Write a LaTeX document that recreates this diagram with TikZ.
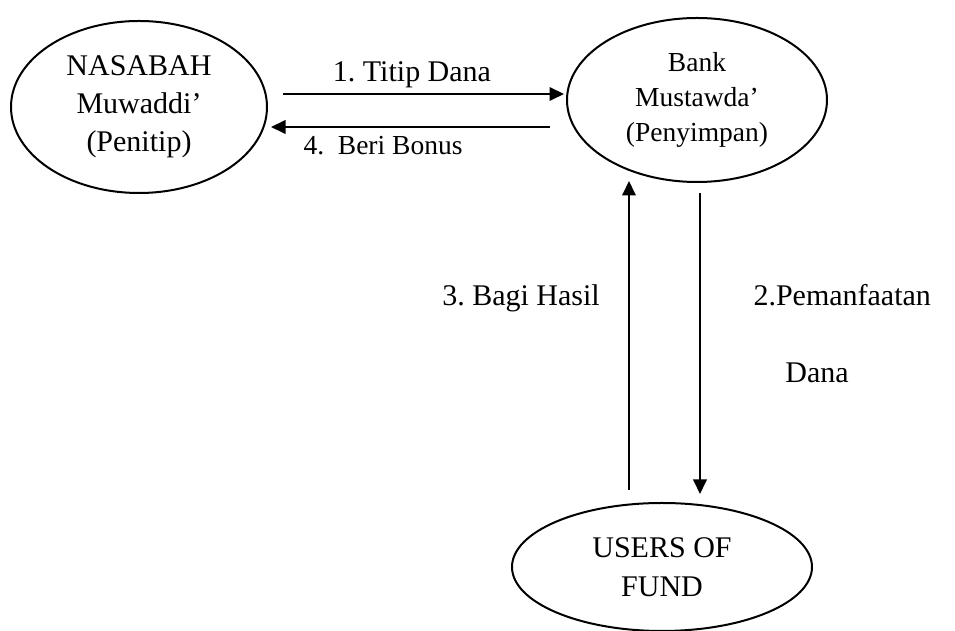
\documentclass[tikz,border=0pt]{standalone}
\usepackage{fontspec}
\setmainfont{Liberation Serif}
\usetikzlibrary{shapes.geometric,arrows.meta}
\begin{document}
\frenchspacing
\begin{tikzpicture}[x=0.4pt,y=-0.4pt,
  ent/.style={draw,ellipse,line width=0.8pt,inner sep=0pt,outer sep=0pt,align=center},
  flow/.style={line width=0.75pt,-{Triangle[length=5.8pt,width=5.4pt]}},
  lbl/.style={anchor=base,inner sep=0pt,font=\fontsize{12}{14}\selectfont\frenchspacing}]
\useasboundingbox (0,0) rectangle (955,631);
\node[ent,minimum width=102.4pt,minimum height=68.8pt,font=\fontsize{12}{15.2}\selectfont] (nas) at (139,107) {NASABAH\\Muwaddi'\\(Penitip)};
\node[ent,minimum width=104pt,minimum height=65.6pt,font=\fontsize{11}{14}\selectfont] (bank) at (697,100) {Bank\\Mustawda'\\(Penyimpan)};
\node[ent,minimum width=120pt,minimum height=51.2pt,font=\fontsize{12}{15.6}\selectfont] (users) at (662,567) {USERS OF\\FUND};
\coordinate (p1s) at (283,94);
\coordinate (p1e) at (564,94);
\coordinate (p4s) at (550,127);
\coordinate (p4e) at (271,127);
\coordinate (p3s) at (629,490);
\coordinate (p3e) at (629,181);
\coordinate (p2s) at (700,193);
\coordinate (p2e) at (700,494);
\draw[flow] (p1s) -- (p1e);
\draw[flow] (p4s) -- (p4e);
\draw[flow] (p3s) -- (p3e);
\draw[flow] (p2s) -- (p2e);
\node[lbl] (l1) at (412,82) {1. Titip Dana};
\node[lbl,font=\fontsize{11}{13}\selectfont\frenchspacing] (l4) at (383,155) {4.\ \ Beri Bonus};
\node[lbl] (l3) at (521,306) {3. Bagi Hasil};
\node[lbl,anchor=base west] (l2) at (753,306) {2.Pemanfaatan};
\node[lbl] (l2b) at (817,383) {Dana};
\end{tikzpicture}
\end{document}
